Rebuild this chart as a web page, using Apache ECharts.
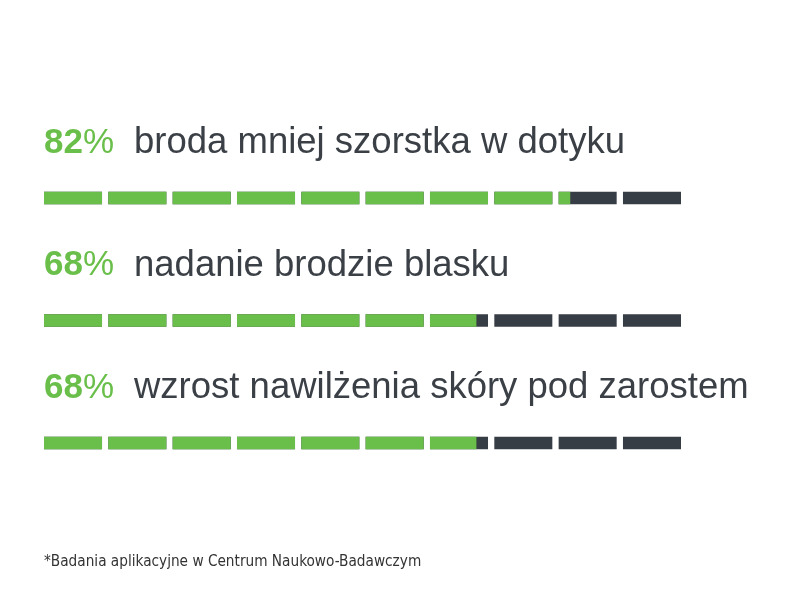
<!DOCTYPE html>
<html>
<head>
<meta charset="utf-8">
<script src="https://cdn.jsdelivr.net/npm/echarts@6/dist/echarts.min.js"></script>
<style>
  html, body { margin: 0; padding: 0; background: #fff; }
  #chart { width: 800px; height: 600px; }
</style>
</head>
<body>
<div id="chart"></div>
<script>
// dane
const categories = ['broda mniej szorstka w dotyku', 'nadanie brodzie blasku', 'wzrost nawilżenia skóry pod zarostem'];
const values = [82, 68, 68];
const segments = 10;
const footnote = '*Badania aplikacyjne w Centrum Naukowo-Badawczym';

const GREEN = '#6abf4a';
const DARK = '#373d45';
const TEXT = '#3b4047';

const chart = echarts.init(document.getElementById('chart'));

function renderRow(params, api) {
  const row = api.value(0);
  const pct = api.value(1);
  const start = api.coord([0, row]);
  const unit = api.size([1, 0])[0];
  const segW = unit - 6.3;
  const h = 12.5;
  const filled = pct / 100 * segments;
  const children = [];
  for (let i = 0; i < segments; i++) {
    const x = start[0] + i * unit;
    const y = start[1] - h / 2;
    children.push({ type: 'rect', shape: { x: x, y: y, width: segW, height: h }, style: { fill: DARK } });
    const part = Math.max(0, Math.min(1, filled - i));
    if (part > 0) {
      children.push({ type: 'rect', shape: { x: x, y: y, width: segW * part, height: h }, style: { fill: GREEN } });
    }
  }
  // procent + opis nad paskiem
  children.push({
    type: 'text',
    x: start[0],
    y: start[1] - 55,
    style: {
      text: '{n|' + pct + '}{p|%}',
      verticalAlign: 'middle',
      rich: {
        n: { fontFamily: 'Liberation Sans', fontWeight: 'bold', fontSize: 35, fill: GREEN },
        p: { fontFamily: 'Liberation Sans', fontWeight: 'normal', fontSize: 35, fill: GREEN }
      }
    }
  });
  children.push({
    type: 'text',
    x: start[0] + 90,
    y: start[1] - 55,
    style: {
      text: categories[row],
      fontFamily: 'Liberation Sans',
      fontSize: 36.5,
      fill: TEXT,
      verticalAlign: 'middle'
    }
  });
  return { type: 'group', children: children };
}

const option = {
  animation: false,
  grid: { left: 44, width: 643.3, top: 136.75, height: 367.5 },
  xAxis: { type: 'value', min: 0, max: segments, show: false },
  yAxis: { type: 'category', data: categories.map((c, i) => i), inverse: true, show: false },
  series: [{
    type: 'custom',
    renderItem: renderRow,
    data: values.map((v, i) => [i, v]),
    encode: { x: 1, y: 0 }
  }],
  graphic: [{
    type: 'text',
    x: 44,
    y: 554,
    scaleX: 0.95,
    style: {
      text: footnote,
      fontFamily: '"DejaVu Sans Condensed", "Liberation Sans", sans-serif',
      fontSize: 16,
      fill: '#333'
    }
  }]
};

chart.setOption(option);
</script>
</body>
</html>
